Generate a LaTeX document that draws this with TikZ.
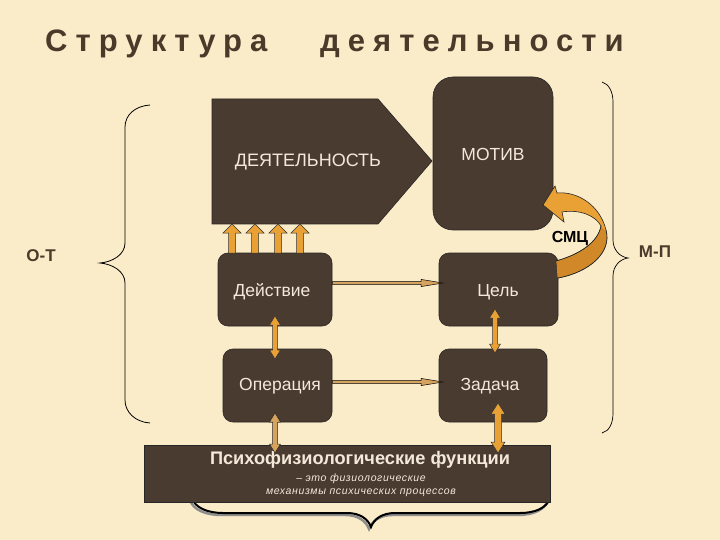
\documentclass[tikz,border=0pt]{standalone}
\usepackage{fontspec}
\setmainfont{Liberation Sans}
\newfontfamily\spacedfont{Liberation Sans}[LetterSpace=26]
\newfontfamily\smallsp{Liberation Sans}[LetterSpace=6]
\usetikzlibrary{calc}
\definecolor{bg}{HTML}{FAECC9}
\definecolor{boxc}{HTML}{4A3B30}
\definecolor{ink}{HTML}{4A3A2A}
\definecolor{boxtext}{HTML}{F3E9DA}
\definecolor{orng}{HTML}{E9A136}
\definecolor{orngdark}{HTML}{D08828}
\definecolor{tanc}{HTML}{D6A35E}
% single block arrow: style, from, to, half shaft, half head, head length
\newcommand\sarrow[6]{%
  \path[#1] (#2) -- ($(#2)!#4!90:(#3)$) -- ($($(#3)!#6!(#2)$)!#4!-90:(#2)$)
    -- ($($(#3)!#6!(#2)$)!#5!-90:(#2)$) -- (#3)
    -- ($($(#3)!#6!(#2)$)!#5!90:(#2)$) -- ($($(#3)!#6!(#2)$)!#4!90:(#2)$)
    -- ($(#2)!#4!-90:(#3)$) -- cycle;}
% double block arrow
\newcommand\darrow[6]{%
  \path[#1] (#2) -- ($($(#2)!#6!(#3)$)!#5!90:(#3)$) -- ($($(#2)!#6!(#3)$)!#4!90:(#3)$)
    -- ($($(#3)!#6!(#2)$)!#4!-90:(#2)$) -- ($($(#3)!#6!(#2)$)!#5!-90:(#2)$) -- (#3)
    -- ($($(#3)!#6!(#2)$)!#5!90:(#2)$) -- ($($(#3)!#6!(#2)$)!#4!90:(#2)$)
    -- ($($(#2)!#6!(#3)$)!#4!-90:(#3)$) -- ($($(#2)!#6!(#3)$)!#5!-90:(#3)$) -- cycle;}
\tikzset{
  boxnode/.style={draw=black!85, line width=0.6pt, fill=boxc, rounded corners=10pt,
    text=boxtext, font=\fontsize{17.5}{20}\selectfont, inner sep=0pt},
  orarrow/.style={fill=orng, draw=black!80, line width=0.5pt},
  tanarrow/.style={fill=tanc, draw=black!85, line width=0.5pt},
  thinarrow/.style={fill=tanc, draw=black, line width=0.5pt},
  bracel/.style={draw=black, line width=0.8pt},
  sidelabel/.style={text=ink, font=\bfseries\fontsize{17}{20}\selectfont, inner sep=0pt},
}
\begin{document}
\begin{tikzpicture}[x=1pt,y=-1pt]
\fill[bg] (0,0) rectangle (720,540);
\useasboundingbox (0,0) rectangle (720,540);

% title
\node[anchor=base west, inner sep=0pt, text=ink, font=\spacedfont\bfseries\fontsize{31}{34}\selectfont] (t1) at (45,52) {Структура};
\node[anchor=base west, inner sep=0pt, text=ink, font=\spacedfont\bfseries\fontsize{31}{34}\selectfont] (t2) at (320,52) {деятельности};

% braces
\draw[bracel] (150,105) .. controls (135,106) and (125,115) .. (125,127) -- (125,243)
  .. controls (125,255) and (112,262) .. (100,263)
  .. controls (112,264) and (125,271) .. (125,283) -- (125,400)
  .. controls (125,412) and (135,422) .. (150,423);
\draw[bracel, line width=0.7pt] (602,82) .. controls (609,84) and (613,92) .. (613,102) -- (613,240)
  .. controls (613,250) and (620,257) .. (628,258)
  .. controls (620,259) and (613,266) .. (613,276) -- (613,413)
  .. controls (613,424) and (609,431) .. (602,433);
\node[sidelabel] (ot) at (41,256) {О-Т};
\node[sidelabel] (mp) at (655,252) {М-П};

% bottom brace with shadow
\draw[black!45, line width=2.4pt, line cap=round] (190,500) .. controls (193,510) and (206,515) .. (221,515) -- (345,515)
  .. controls (358,515) and (366,521) .. (369,529) .. controls (372,521) and (380,515) .. (393,515) -- (518,515)
  .. controls (533,515) and (545,510) .. (548,500);
\draw[black, line width=2pt, line cap=round] (192,498) .. controls (195,508) and (208,513) .. (223,513) -- (347,513)
  .. controls (360,513) and (368,519) .. (371,527) .. controls (374,519) and (382,513) .. (395,513) -- (520,513)
  .. controls (535,513) and (547,508) .. (550,498);

% ДЕЯТЕЛЬНОСТЬ
\draw[fill=boxc, draw=black!85, line width=0.6pt] (212,99) -- (378,99) -- (432,161) -- (378,224) -- (212,224) -- cycle;
\node[text=boxtext, font=\fontsize{18}{20}\selectfont, inner sep=0pt] (deyat) at (308,162) {ДЕЯТЕЛЬНОСТЬ};
% МОТИВ
\node[boxnode, rounded corners=20pt, minimum width=120pt, minimum height=153pt] (motiv) at (493,153.5) {};
\node[text=boxtext, font=\fontsize{17.5}{20}\selectfont, inner sep=0pt] (motivt) at (493,154) {МОТИВ};

% boxes
\node[boxnode, minimum width=114pt, minimum height=73pt] (deyst) at (275,289.5) {};
\node[text=boxtext, font=\fontsize{17.5}{20}\selectfont, inner sep=0pt] at (272,292) {Действие};
\node[boxnode, minimum width=119pt, minimum height=73pt] (cel) at (498.5,289.5) {};
\node[text=boxtext, font=\fontsize{17.5}{20}\selectfont, inner sep=0pt] at (498,292) {Цель};
\node[boxnode, minimum width=109pt, minimum height=73pt] (oper) at (277.5,385.5) {};
\node[text=boxtext, font=\fontsize{17.5}{20}\selectfont, inner sep=0pt] at (280,386) {Операция};
\node[boxnode, minimum width=108pt, minimum height=73pt] (zad) at (493,385.5) {};
\node[text=boxtext, font=\fontsize{17.5}{20}\selectfont, inner sep=0pt] at (490,386) {Задача};

% psycho box
\node[draw=black!85, line width=0.6pt, fill=boxc, minimum width=406pt, minimum height=57pt, inner sep=0pt] (psy) at (347,473.5) {};
\node[text=boxtext, font=\bfseries\fontsize{18.2}{20}\selectfont, inner sep=0pt] (psyt) at (360,460) {Психофизиологические функции};
\node[text=boxtext, font=\smallsp\itshape\fontsize{10.5}{12}\selectfont, inner sep=0pt] (psy2) at (361,479) {– это физиологические};
\node[text=boxtext, font=\smallsp\itshape\fontsize{10.5}{12}\selectfont, inner sep=0pt] (psy3) at (361,493) {механизмы психических процессов};

% four up arrows
\foreach \i/\xx in {1/232,2/255,3/278,4/300}{
  \coordinate (ua\i) at (\xx,253);
  \coordinate (ub\i) at (\xx,224);
  \sarrow{orarrow}{ua\i}{ub\i}{3.5pt}{9pt}{9pt}
}

% horizontal thin arrows
\coordinate (h1a) at (deyst.east |- 0,283);
\coordinate (h1b) at (443,283);
\sarrow{thinarrow}{h1a}{h1b}{1.4pt}{3.6pt}{22pt}
\coordinate (h2a) at (oper.east |- 0,382);
\coordinate (h2b) at (443,382);
\sarrow{thinarrow}{h2a}{h2b}{1.4pt}{3.6pt}{22pt}

% vertical double arrows
\coordinate (v1a) at (275,316); \coordinate (v1b) at (275,359);
\darrow{orarrow}{v1a}{v1b}{2.5pt}{5.5pt}{9pt}
\coordinate (v2a) at (495,309); \coordinate (v2b) at (495,353);
\darrow{orarrow}{v2a}{v2b}{2.5pt}{5.5pt}{9pt}
\coordinate (v3a) at (275,413); \coordinate (v3b) at (275,453);
\darrow{tanarrow}{v3a}{v3b}{2.5pt}{5.5pt}{9pt}
\coordinate (v4a) at (498,403); \coordinate (v4b) at (498,453);
\darrow{orarrow}{v4a}{v4b}{3.5pt}{7pt}{11pt}

% СМЦ label and curved arrow
\node[text=black, font=\bfseries\fontsize{16}{18}\selectfont, inner sep=0pt] (smc) at (570,239) {СМЦ};
\draw[fill=orng, draw=black!85, line width=0.6pt]
  (558,278) .. controls (590,272) and (612,252) .. (606,230)
  .. controls (600,205) and (577,191) .. (557,193)
  -- (555,186) -- (543,205) -- (564,222) -- (562,212)
  .. controls (580,209) and (596,216) .. (601,226)
  .. controls (598,243) and (578,255) .. (556,261) -- cycle;
\fill[orngdark] (557.5,277.5) .. controls (590,271.5) and (611.5,252) .. (605.5,231)
  -- (601,227) .. controls (598,243.5) and (578,255.5) .. (556.5,261.5) -- cycle;
\draw[black!85, line width=0.6pt]
  (558,278) .. controls (590,272) and (612,252) .. (606,230);
\draw[black!85, line width=0.6pt] (601,226) .. controls (598,243) and (578,255) .. (556,261);
\end{tikzpicture}
\end{document}
